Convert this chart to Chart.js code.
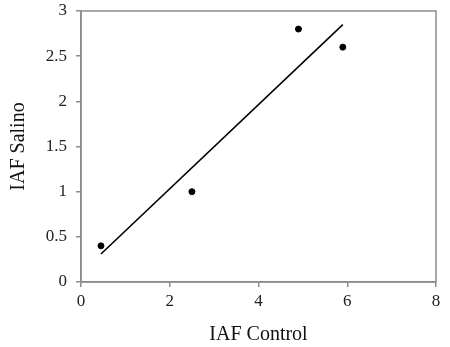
<!DOCTYPE html>
<html>
<head>
<meta charset="utf-8">
<script src="https://cdn.jsdelivr.net/npm/chart.js@4/dist/chart.umd.min.js"></script>
<style>
  html, body { margin: 0; padding: 0; background: #fff; }
  #wrap { position: relative; width: 450px; height: 347px; }
</style>
</head>
<body>
<div id="wrap"><canvas id="chart"></canvas></div>
<script>
// Observed points (IAF Control vs IAF Salino)
const controlValues = [0.45, 2.5, 4.9, 5.9];
const salinoValues = [0.4, 1.0, 2.8, 2.6];

// Trend line end points
const trendX = [0.45, 5.9];
const trendY = [0.31, 2.85];

const xTitle = 'IAF Control';
const yTitle = 'IAF Salino';

const axisGrey = '#8c8c8c';
const serif = "'Liberation Serif', 'DejaVu Serif', serif";

// Draw the box around the plot area
const boxPlugin = {
    id: 'plotBox',
    afterDraw(chart) {
        const { ctx, chartArea } = chart;
        ctx.save();
        ctx.strokeStyle = axisGrey;
        ctx.lineWidth = 1.5;
        ctx.strokeRect(chartArea.left, chartArea.top,
            chartArea.right - chartArea.left, chartArea.bottom - chartArea.top);
        ctx.restore();
    }
};

const ctx = document.getElementById('chart').getContext('2d');
new Chart(ctx, {
    type: 'scatter',
    data: {
        datasets: [
            {
                label: 'Points',
                data: controlValues.map((x, i) => ({ x: x, y: salinoValues[i] })),
                backgroundColor: '#000',
                borderColor: '#000',
                pointRadius: 3,
                showLine: false
            },
            {
                label: 'Trend',
                data: trendX.map((x, i) => ({ x: x, y: trendY[i] })),
                borderColor: '#000',
                borderWidth: 1.6,
                pointRadius: 0,
                showLine: true
            }
        ]
    },
    options: {
        responsive: true,
        maintainAspectRatio: false,
        animation: false,
        layout: { padding: { left: 0, top: 0, right: 14, bottom: 0 } },
        plugins: {
            legend: { display: false },
            tooltip: { enabled: false }
        },
        scales: {
            x: {
                type: 'linear',
                min: 0,
                max: 8,
                ticks: { stepSize: 2, color: '#222', padding: 4, font: { family: serif, size: 17 } },
                grid: { drawOnChartArea: false, tickLength: 5, color: axisGrey, lineWidth: 1.5 },
                border: { color: axisGrey, width: 1.5 },
                title: { display: true, text: xTitle, color: '#111', padding: { top: 0, bottom: 0 }, font: { family: serif, size: 20 } },
                afterFit(scale) { scale.height = 65; }
            },
            y: {
                type: 'linear',
                min: 0,
                max: 3,
                ticks: {
                    stepSize: 0.5, color: '#222', padding: 9, font: { family: serif, size: 17 },
                    callback: (v) => String(v)
                },
                grid: { drawOnChartArea: false, tickLength: 5, color: axisGrey, lineWidth: 1.5 },
                border: { color: axisGrey, width: 1.5 },
                title: { display: true, text: yTitle, color: '#111', padding: { top: 7, bottom: 0 }, font: { family: serif, size: 20 } },
                afterFit(scale) {
                    scale.width = 81;
                    scale.paddingTop = 11;
                }
            }
        }
    },
    plugins: [boxPlugin]
});
</script>
</body>
</html>
